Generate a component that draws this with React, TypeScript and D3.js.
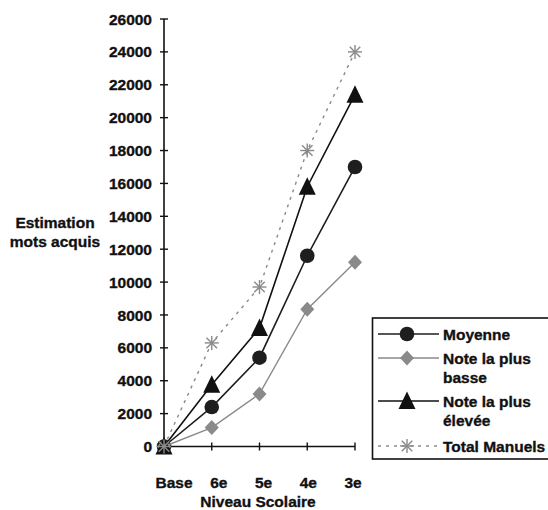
import React from "react";
import * as d3 from "d3";

const categories = ["Base", "6e", "5e", "4e", "3e"];
const moyenne = [0, 2400, 5400, 11600, 17000];
const noteBasse = [0, 1150, 3200, 8350, 11200];
const noteHaute = [0, 3750, 7200, 15800, 21400];
const totalManuels = [0, 6300, 9700, 18000, 24000];
const yTicks = [0, 2000, 4000, 6000, 8000, 10000, 12000, 14000, 16000, 18000, 20000, 22000, 24000, 26000];

const W = 548, H = 510;
const font = "Liberation Sans, Arial, sans-serif";
const FS = 15.5;

function Marker({ type, x, y }: { type: string; x: number; y: number }) {
  if (type === "circle") return <circle cx={x} cy={y} r={7.3} fill="#1e1e1e" />;
  if (type === "diamond") {
    return <path d={`M${x},${y - 7.5}L${x + 7},${y}L${x},${y + 7.5}L${x - 7},${y}Z`} fill="#8a8a8a" />;
  }
  if (type === "triangle") {
    return <path d={`M${x},${y - 9.5}L${x + 8.5},${y + 8}L${x - 8.5},${y + 8}Z`} fill="#111" />;
  }
  const s = 7;
  return (
    <g stroke="#8a8a8a" strokeWidth={1.4}>
      <line x1={x - s} y1={y} x2={x + s} y2={y} />
      <line x1={x} y1={y - s} x2={x} y2={y + s} />
      <line x1={x - s * 0.75} y1={y - s * 0.75} x2={x + s * 0.75} y2={y + s * 0.75} />
      <line x1={x - s * 0.75} y1={y + s * 0.75} x2={x + s * 0.75} y2={y - s * 0.75} />
    </g>
  );
}

const series = [
  { name: ["Moyenne"], values: moyenne, color: "#1e1e1e", marker: "circle", dash: undefined as string | undefined, width: 1.6 },
  { name: ["Note la plus", "basse"], values: noteBasse, color: "#8a8a8a", marker: "diamond", dash: undefined, width: 1.4 },
  { name: ["Note la plus", "élevée"], values: noteHaute, color: "#111", marker: "triangle", dash: undefined, width: 1.6 },
  { name: ["Total Manuels"], values: totalManuels, color: "#8a8a8a", marker: "star", dash: "3,5", width: 1.4 },
];

const textProps = { fontSize: FS, fill: "#111", stroke: "#111", strokeWidth: 0.35 };

export default function App() {
  const x = d3.scalePoint<string>().domain(categories).range([164, 355]);
  const xLab = d3.scalePoint<string>().domain(categories).range([174, 353]);
  const y = d3.scaleLinear().domain([0, 26000]).range([446.5, 19]);
  const line = d3.line<number>().x((_, i) => x(categories[i])!).y((v) => y(v));

  const legendRows = [334, 358, 401, 446];
  return (
    <svg width={W} height={H} style={{ position: "absolute", left: 0, top: 0, background: "#fff" }} fontFamily={font} fontWeight="bold">
      {/* y axis */}
      <line x1={164} x2={164} y1={y(26000)} y2={y(0)} stroke="#111" strokeWidth={1.6} />
      {yTicks.map((t) => (
        <g key={t}>
          <line x1={160} x2={168} y1={y(t)} y2={y(t)} stroke="#111" strokeWidth={1.4} />
          <text x={152} y={y(t)} dy="0.36em" textAnchor="end" {...textProps}>{t}</text>
        </g>
      ))}
      {/* x axis */}
      <line x1={164} x2={355} y1={y(0)} y2={y(0)} stroke="#111" strokeWidth={1.6} />
      {categories.map((c) => (
        <line key={c} x1={x(c)} x2={x(c)} y1={y(0) - 4} y2={y(0) + 4} stroke="#111" strokeWidth={1.4} />
      ))}
      {categories.map((c) => (
        <text key={c} x={xLab(c)} y={488} textAnchor="middle" {...textProps}>{c}</text>
      ))}
      <text x={258} y={507} textAnchor="middle" {...textProps}>Niveau Scolaire</text>
      <text x={55} y={228} textAnchor="middle" {...textProps}>Estimation</text>
      <text x={55} y={247} textAnchor="middle" {...textProps}>mots acquis</text>

      {series.map((s) => (
        <g key={s.name.join(" ")}>
          <path d={line(s.values)!} fill="none" stroke={s.color} strokeWidth={s.width} strokeDasharray={s.dash} />
          {s.values.map((v, i) => (
            <Marker key={i} type={s.marker} x={x(categories[i])!} y={y(v)} />
          ))}
        </g>
      ))}

      {/* legend */}
      <rect x={372.5} y={318} width={190} height={141} fill="#fff" stroke="#111" strokeWidth={1.6} />
      {series.map((s, i) => {
        const ly = legendRows[i];
        return (
          <g key={i}>
            <line x1={378} x2={439} y1={ly} y2={ly} stroke={s.color} strokeWidth={s.width} strokeDasharray={s.dash} />
            <Marker type={s.marker} x={407} y={ly} />
            {s.name.map((n, j) => (
              <text key={j} x={443} y={ly + j * 19} dy="0.36em" {...textProps}>{n}</text>
            ))}
          </g>
        );
      })}
    </svg>
  );
}
